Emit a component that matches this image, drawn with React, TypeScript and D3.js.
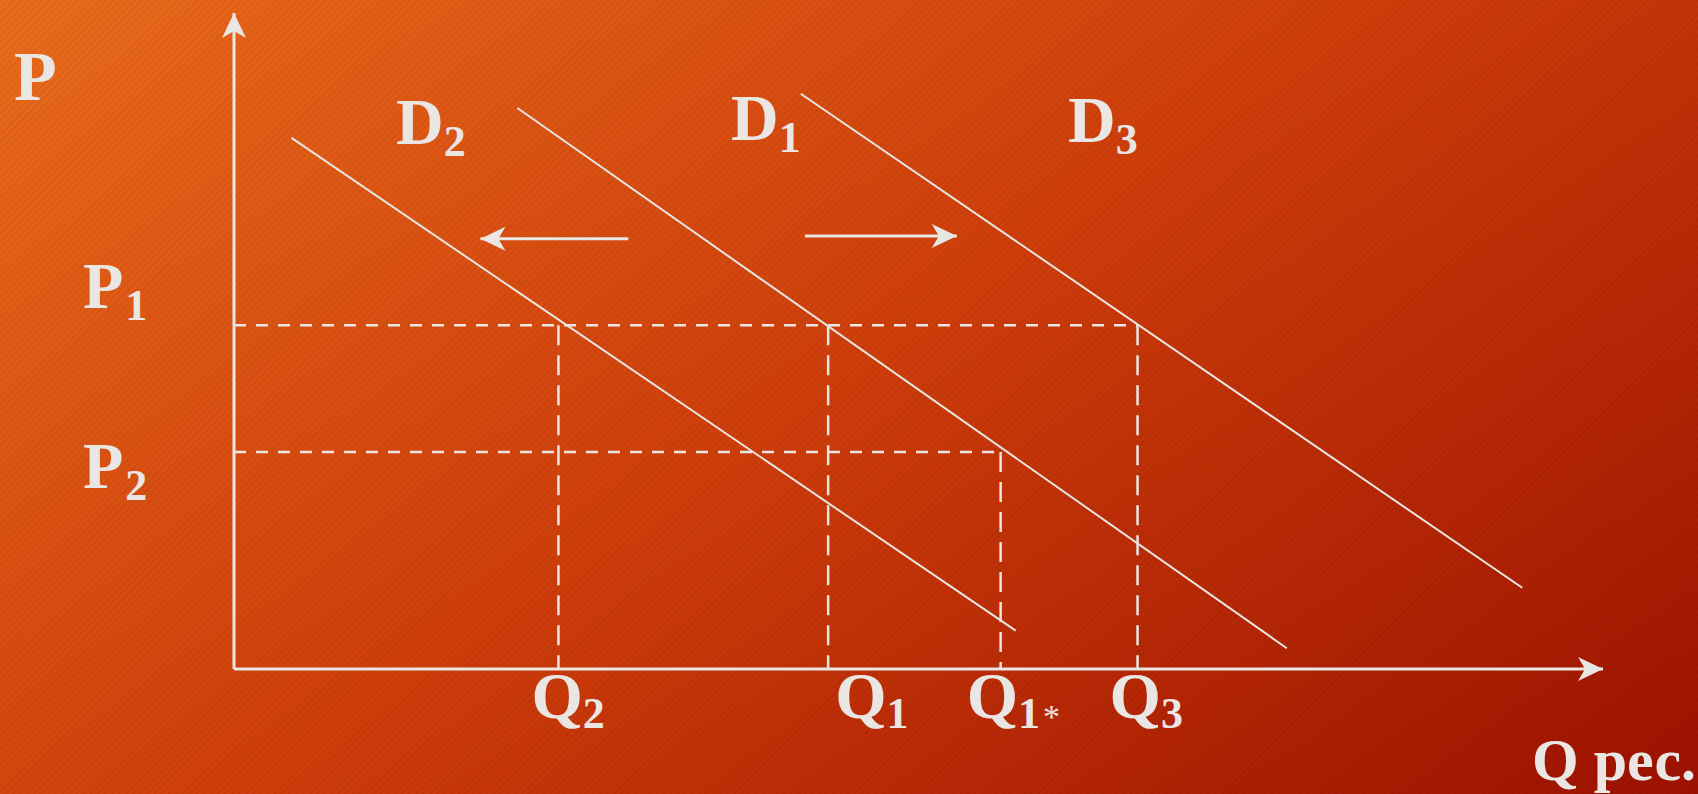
import * as React from "react"
import { scaleLinear, line } from "d3"

// price levels (P1, P2) in chart units
const priceLevels = [52.9, 33.4]
const priceSubs = ["1", "2"]

// quantities on the horizontal axis: Q2, Q1, Q1*, Q3
const quantityLevels = [23.7, 43.4, 56.0, 66.0]
const quantitySubs = ["2", "1", "1", "3"]
const quantityMarks = ["", "", "*", ""]
// price each quantity guide line goes up to
const quantityPrices = [52.9, 52.9, 33.4, 52.9]

// demand curves, [Q, P] end points
const demandNames = ["2", "1", "3"]
const demandD2 = [[4.2, 81.7], [57.1, 5.9]]
const demandD1 = [[20.7, 86.3], [76.9, 3.2]]
const demandD3 = [[41.4, 88.5], [94.1, 12.5]]
const demands = [demandD2, demandD1, demandD3]

// shift arrows
const shiftLeft = [[28.8, 66.2], [18.0, 66.2]]
const shiftRight = [[41.7, 66.6], [52.8, 66.6]]

const width = 1698
const height = 794
const ink = "#e9e6e3"
const font = "'Liberation Serif', 'Times New Roman', serif"

function App() {
  const x = scaleLinear().domain([0, 100]).range([234, 1603])
  const y = scaleLinear().domain([0, 100]).range([669, 19])

  const path = line()
    .x((d) => x(d[0]))
    .y((d) => y(d[1]))

  // label layout (px)
  const pLabelX = 83
  const pLabelDy = [-17, 36]
  const qLabelDx = [-27, 7, -34, -28]
  const qLabelY = 718
  const dLabels = [
    [396, 144],
    [731, 140],
    [1068, 142],
  ]

  return (
    <>
      <style>{"body{margin:0;overflow:hidden}"}</style>
      <svg width={width} height={height} style={{ display: "block" }}>
        <defs>
          <linearGradient id="bg" gradientUnits="userSpaceOnUse" x1="0" y1="0" x2="932" y2="1333">
            <stop offset="0" stopColor="#ea6c1c" />
            <stop offset="0.5" stopColor="#cd3c0a" />
            <stop offset="1" stopColor="#9c1100" />
          </linearGradient>
          <pattern id="stripes" width="5" height="5" patternUnits="userSpaceOnUse" patternTransform="rotate(45)">
            <line x1="0" y1="0" x2="0" y2="5" stroke="#000" strokeOpacity="0.1" strokeWidth="1.5" />
          </pattern>
          <marker
            id="head"
            viewBox="-26 -13 27 26"
            refX="0"
            refY="0"
            markerWidth="27"
            markerHeight="26"
            markerUnits="userSpaceOnUse"
            orient="auto"
          >
            <path d="M0,0 L-25,-12 L-18,0 L-25,12 Z" fill={ink} />
          </marker>
        </defs>

        <rect width={width} height={height} fill="url(#bg)" />
        <rect width={width} height={height} fill="url(#stripes)" />

        {/* guide lines */}
        <g stroke={ink} strokeWidth={2.5} fill="none">
          {priceLevels.map((p, i) => {
            const reach = Math.max(
              ...quantityLevels.filter((_, j) => quantityPrices[j] === p)
            )
            return (
              <line
                key={"h" + i}
                x1={x(0)}
                x2={x(reach)}
                y1={y(p)}
                y2={y(p)}
                strokeDasharray="12 10"
              />
            )
          })}
          {quantityLevels.map((q, i) => (
            <line
              key={"v" + i}
              x1={x(q)}
              x2={x(q)}
              y1={y(quantityPrices[i])}
              y2={y(0)}
              strokeDasharray="20 10"
            />
          ))}
        </g>

        {/* demand curves */}
        <g stroke={ink} strokeWidth={2} fill="none">
          {demands.map((d, i) => (
            <path key={i} d={path(d)} />
          ))}
          <path d={path(shiftLeft)} strokeWidth={3} markerEnd="url(#head)" />
          <path d={path(shiftRight)} strokeWidth={3} markerEnd="url(#head)" />
        </g>

        {/* axes */}
        <g stroke={ink} strokeWidth={3} fill="none">
          <line x1={x(0)} y1={y(0)} x2={x(0)} y2={13} markerEnd="url(#head)" />
          <line x1={x(0)} y1={y(0)} x2={1603} y2={y(0)} markerEnd="url(#head)" />
        </g>

        <g fill={ink} fontFamily={font} fontWeight="bold" fontSize={66}>
          <text x={14} y={100} fontSize={70}>P</text>
          {priceLevels.map((p, i) => (
            <text key={"p" + i} x={pLabelX} y={y(p) + pLabelDy[i]}>
              P<tspan fontSize={44} dy={12} dx={2}>{priceSubs[i]}</tspan>
            </text>
          ))}
          {quantityLevels.map((q, i) => (
            <text key={"q" + i} x={x(q) + qLabelDx[i]} y={qLabelY}>
              Q<tspan fontSize={44} dy={10}>{quantitySubs[i]}</tspan>
              {quantityMarks[i] && (
                <tspan fontSize={34} fontWeight="normal" dx={3}>{quantityMarks[i]}</tspan>
              )}
            </text>
          ))}
          {demandNames.map((n, i) => (
            <text key={"d" + i} x={dLabels[i][0]} y={dLabels[i][1]}>
              D<tspan fontSize={44} dy={12}>{n}</tspan>
            </text>
          ))}
          <text x={1532} y={780} fontSize={60}>Q рес.</text>
        </g>
      </svg>
    </>
  )
}

export default App
